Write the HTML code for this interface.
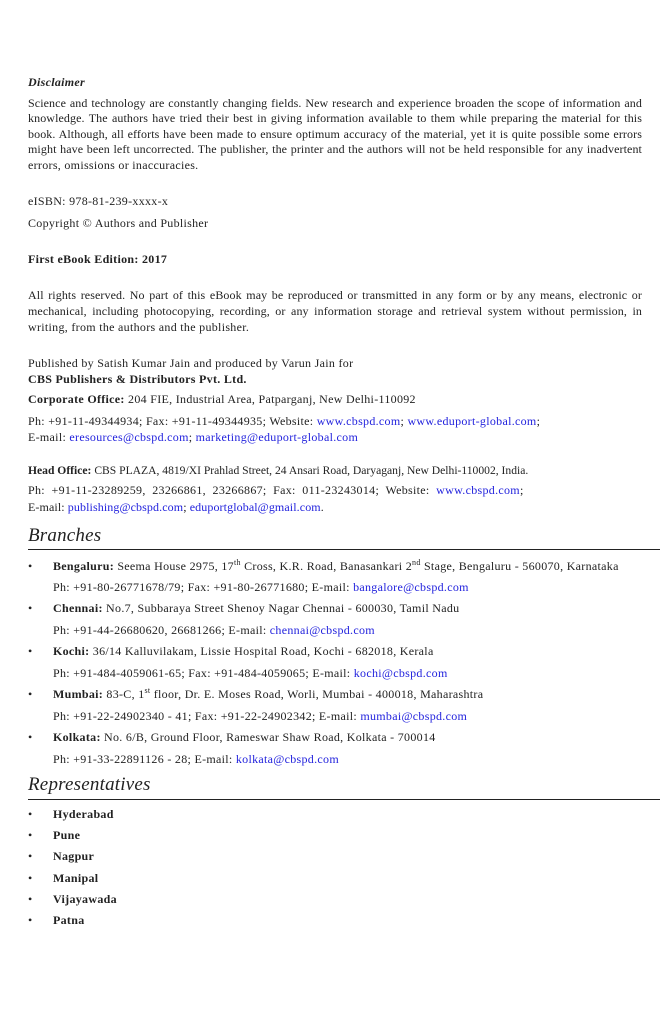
<!DOCTYPE html>
<html><head><meta charset="utf-8"><style>
body{margin:0;width:660px;height:1020px;background:#fff;position:relative;overflow:hidden;font-family:"Liberation Serif",serif;font-size:12px;letter-spacing:0.3px;color:#222;}
.l{position:absolute;left:28px;line-height:16px;white-space:nowrap;}
.j{position:absolute;left:28px;width:614px;line-height:16px;text-align:justify;text-align-last:justify;white-space:nowrap;letter-spacing:0.1px}
.j span{display:block}
.i{left:53px}
.b{position:absolute;left:28px;line-height:16px}
a{color:#2222dd;text-decoration:none}
h2{position:absolute;left:28px;margin:0;font-weight:normal;font-style:italic;font-size:19px;line-height:20px;letter-spacing:0.2px}
.rule{position:absolute;left:28px;right:0;height:1px;background:#222}
sup{font-size:8px;line-height:0}
</style></head><body>
<div class="l" style="top:74px"><b><i>Disclaimer</i></b></div>
<div class="j" style="top:96px;line-height:15.3px">
<span>Science and technology are constantly changing fields. New research and experience broaden the scope of information and</span>
<span>knowledge. The authors have tried their best in giving information available to them while preparing the material for this</span>
<span>book. Although, all efforts have been made to ensure optimum accuracy of the material, yet it is quite possible some errors</span>
<span>might have been left uncorrected. The publisher, the printer and the authors will not be held responsible for any inadvertent</span>
</div>
<div class="l" style="top:157px">errors, omissions or inaccuracies.</div>
<div class="l" style="top:193px">eISBN: 978-81-239-xxxx-x</div>
<div class="l" style="top:215px">Copyright © Authors and Publisher</div>
<div class="l" style="top:251px"><b>First eBook Edition: 2017</b></div>
<div class="j" style="top:288px;line-height:15.5px">
<span>All rights reserved. No part of this eBook may be reproduced or transmitted in any form or by any means, electronic or</span>
<span>mechanical, including photocopying, recording, or any information storage and retrieval system without permission, in</span>
</div>
<div class="l" style="top:319px">writing, from the authors and the publisher.</div>
<div class="l" style="top:355px">Published by Satish Kumar Jain and produced by Varun Jain for</div>
<div class="l" style="top:371px"><b>CBS Publishers &amp; Distributors Pvt. Ltd.</b></div>
<div class="l" style="top:391px"><b>Corporate Office:</b> 204 FIE, Industrial Area, Patparganj, New Delhi-110092</div>
<div class="l" style="top:413px">Ph: +91-11-49344934; Fax: +91-11-49344935; Website: <a>www.cbspd.com</a>; <a>www.eduport-global.com</a>;</div>
<div class="l" style="top:429px">E-mail: <a>eresources@cbspd.com</a>; <a>marketing@eduport-global.com</a></div>
<div class="l" style="top:463px;font-size:11.6px;letter-spacing:0"><b>Head Office:</b> CBS PLAZA, 4819/XI Prahlad Street, 24 Ansari Road, Daryaganj, New Delhi-110002, India.</div>
<div class="l" style="top:482px">Ph:&nbsp; +91-11-23289259,&nbsp; 23266861,&nbsp; 23266867;&nbsp; Fax:&nbsp; 011-23243014;&nbsp; Website:&nbsp; <a>www.cbspd.com</a>;</div>
<div class="l" style="top:499px;letter-spacing:0.1px">E-mail: <a>publishing@cbspd.com</a>; <a>eduportglobal@gmail.com</a>.</div>
<h2 style="top:526px">Branches</h2>
<div class="rule" style="top:549px"></div>
<div class="b" style="top:558px">•</div><div class="l i" style="top:558px"><b>Bengaluru:</b> Seema House 2975, 17<sup>th</sup> Cross, K.R. Road, Banasankari 2<sup>nd</sup> Stage, Bengaluru - 560070, Karnataka</div>
<div class="l i" style="top:579px">Ph: +91-80-26771678/79; Fax: +91-80-26771680; E-mail: <a>bangalore@cbspd.com</a></div>
<div class="b" style="top:600px">•</div><div class="l i" style="top:600px"><b>Chennai:</b> No.7, Subbaraya Street Shenoy Nagar Chennai - 600030, Tamil Nadu</div>
<div class="l i" style="top:622px">Ph: +91-44-26680620, 26681266; E-mail: <a>chennai@cbspd.com</a></div>
<div class="b" style="top:643px">•</div><div class="l i" style="top:643px"><b>Kochi:</b> 36/14 Kalluvilakam, Lissie Hospital Road, Kochi - 682018, Kerala</div>
<div class="l i" style="top:665px">Ph: +91-484-4059061-65; Fax: +91-484-4059065; E-mail: <a>kochi@cbspd.com</a></div>
<div class="b" style="top:686px">•</div><div class="l i" style="top:686px"><b>Mumbai:</b> 83-C, 1<sup>st</sup> floor, Dr. E. Moses Road, Worli, Mumbai - 400018, Maharashtra</div>
<div class="l i" style="top:708px">Ph: +91-22-24902340 - 41; Fax: +91-22-24902342; E-mail: <a>mumbai@cbspd.com</a></div>
<div class="b" style="top:729px">•</div><div class="l i" style="top:729px"><b>Kolkata:</b> No. 6/B, Ground Floor, Rameswar Shaw Road, Kolkata - 700014</div>
<div class="l i" style="top:751px">Ph: +91-33-22891126 - 28; E-mail: <a>kolkata@cbspd.com</a></div>
<h2 style="top:775px">Representatives</h2>
<div class="rule" style="top:799px"></div>
<div class="b" style="top:806px">•</div><div class="l i" style="top:806px"><b>Hyderabad</b></div>
<div class="b" style="top:827px">•</div><div class="l i" style="top:827px"><b>Pune</b></div>
<div class="b" style="top:848px">•</div><div class="l i" style="top:848px"><b>Nagpur</b></div>
<div class="b" style="top:870px">•</div><div class="l i" style="top:870px"><b>Manipal</b></div>
<div class="b" style="top:891px">•</div><div class="l i" style="top:891px"><b>Vijayawada</b></div>
<div class="b" style="top:912px">•</div><div class="l i" style="top:912px"><b>Patna</b></div>
</body></html>
